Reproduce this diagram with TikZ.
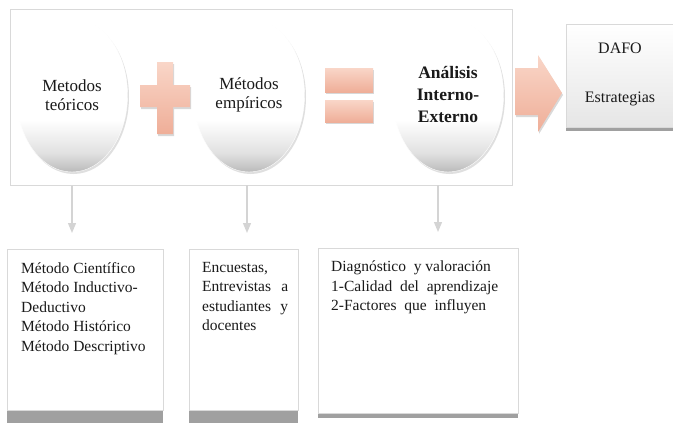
\documentclass[tikz,border=0pt]{standalone}
\usepackage{fontspec}
\setmainfont{Liberation Serif}
\usetikzlibrary{shapes.geometric,arrows.meta,shadows}
\definecolor{frameln}{HTML}{D9D9D9}
\definecolor{salmonT}{HTML}{F9D6C8}
\definecolor{salmonB}{HTML}{EFAE98}
\definecolor{shadowgr}{HTML}{A0A0A0}
\definecolor{arrgr}{HTML}{D4D4D4}
\definecolor{txt}{HTML}{1A1A1A}
\pgfdeclareverticalshading{bubshade}{100bp}{color(0bp)=(black!27); color(25bp)=(black!27); color(31bp)=(black!12); color(42bp)=(white); color(100bp)=(white)}
\tikzset{
  bubble/.style={ellipse, minimum width=111pt, minimum height=154pt, inner sep=0pt,
    draw=white, shading=bubshade,
    drop shadow={shadow xshift=1.5pt, shadow yshift=-2pt, opacity=0.25},
    text=txt, align=center, font=\fontsize{17}{19}\selectfont},
  salmon/.style={top color=salmonT, bottom color=salmonB, draw=none,
    drop shadow={shadow xshift=1pt, shadow yshift=-2pt, opacity=0.3}},
  infobox/.style={draw=frameln, line width=0.8pt, fill=white, inner sep=0pt, anchor=north west},
  infotext/.style={anchor=north west, inner sep=0pt, text=txt, align=left,
    font=\fontsize{15.5}{19.5}\selectfont},
  downarrow/.style={draw=arrgr, line width=1.2pt, -{Triangle[width=8pt,length=10pt]}, shorten >=16pt},
}
\begin{document}
\begin{tikzpicture}[x=1pt,y=-1pt]
\useasboundingbox (0,0) rectangle (673,423);
% outer frame
\node[draw=frameln, line width=0.8pt, fill=white, minimum width=502pt, minimum height=176pt, inner sep=0pt, anchor=north west] (frame) at (10,9) {};
% bubbles
\node[bubble] (c1) at (72,95) {Metodos\\teóricos};
\node[bubble] (c2) at (249,95) {Métodos\\empíricos};
\node[bubble, font=\fontsize{17.5}{22}\selectfont\bfseries] (c3) at (448,95) {Análisis\\Interno-\\Externo};
% plus
\path[salmon] (157,62) -- (173,62) -- (173,85) -- (190,85) -- (190,107) -- (173,107) -- (173,134) -- (157,134) -- (157,107) -- (140,107) -- (140,85) -- (157,85) -- cycle;
% equals
\path[salmon] (325,68) rectangle (373,92);
\path[salmon] (325,100) rectangle (373,122);
% big arrow
\path[salmon] (515,68) -- (538,68) -- (538,55) -- (562,93) -- (538,132) -- (538,115) -- (515,115) -- cycle;
% DAFO box
\fill[shadowgr] (566,126) rectangle (673,131);
\node[draw=frameln, line width=0.8pt, top color=white, bottom color=black!10, minimum width=107pt, minimum height=103pt, inner sep=0pt, anchor=north west] (dafo) at (566,24) {};
\node[text=txt, font=\fontsize{16}{19}\selectfont, anchor=base] (dafoA) at (620,53) {DAFO};
\node[text=txt, font=\fontsize{16}{19}\selectfont, anchor=base] (dafoB) at (620,102) {Estrategias};
% bottom boxes shadows
\fill[shadowgr] (7,409) rectangle (163,423);
\fill[shadowgr] (189,409) rectangle (298,423);
\fill[shadowgr] (318,412) rectangle (518,418);
\node[infobox, minimum width=156pt, minimum height=161pt] (b1) at (7,249) {};
\node[infobox, minimum width=109pt, minimum height=161pt] (b2) at (189,249) {};
\node[infobox, minimum width=200pt, minimum height=165pt] (b3) at (318,248) {};
\node[infotext] (t1) at (21,262) {Método Científico\\Método Inductivo-\\Deductivo\\Método Histórico\\Método Descriptivo};
\node[infotext, text width=86pt] (t2) at (202,262) {Encuestas,\\Entrevistas\hfill a\\estudiantes\hfill y\\docentes};
\node[infotext] (t3) at (331,261) {Diagnóstico~ y valoración\\1-Calidad~ del~ aprendizaje\\2-Factores~ que~ influyen};
% connectors
\draw[downarrow] (c1 |- frame.south) -- (c1 |- b1.north);
\draw[downarrow] (247,185) -- (247,249);
\draw[downarrow] (438,185) -- (438,248);
\end{tikzpicture}
\end{document}
